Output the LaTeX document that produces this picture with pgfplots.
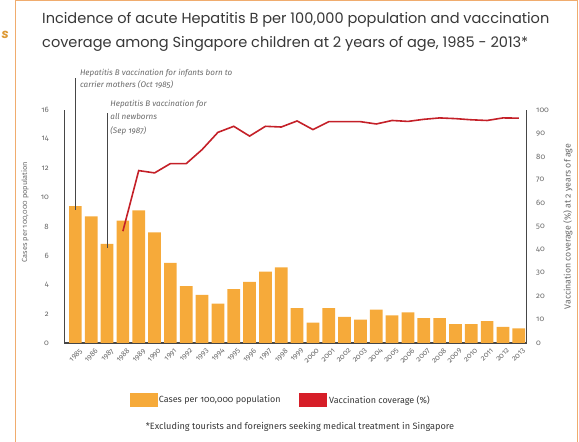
\documentclass[border=0pt]{standalone}
\usepackage{pgfplots}
\pgfplotsset{compat=1.18}
\usepackage{fontspec}
\setmainfont{Fira Sans}[Numbers=OldStyle]
\newfontfamily\titlefont{Poppins}
\definecolor{barorange}{RGB}{246,170,58}
\definecolor{vacred}{RGB}{196,32,40}
\definecolor{legred}{RGB}{214,30,40}
\definecolor{axisgray}{RGB}{70,70,70}
\definecolor{labgray}{RGB}{105,105,105}
\definecolor{titlegray}{RGB}{55,55,55}
\definecolor{frameorange}{RGB}{240,172,110}
\begin{document}
\begin{tikzpicture}
\useasboundingbox (0bp,0bp) rectangle (579bp,442bp);
% frame
\draw[frameorange, line width=1bp] (15bp,0bp) -- (15bp,441.5bp) -- (577bp,441.5bp) -- (577bp,0bp);
\node[anchor=east, text=barorange!90!black, font=\titlefont\bfseries\itshape\fontsize{13}{15}\selectfont, inner sep=0pt] at (9bp,407bp) {s};
% title
\node[anchor=north west, align=left, text=titlegray, inner sep=0pt,
      font=\titlefont\fontsize{14.6}{24}\selectfont] at (42bp,430bp)
  {Incidence of acute Hepatitis B per 100,000 population and vaccination\\
   coverage among Singapore children at 2 years of age, 1985 - 2013*};
\begin{axis}[
  scale only axis, width=462.4bp, height=233bp,
  at={(64.3bp,99bp)}, anchor=south west,
  xmin=-0.7, xmax=28.5, ymin=0, ymax=16,
  axis x line*=bottom, axis y line*=left,
  axis line style={-, draw=axisgray, line width=1.4bp},
  major tick length=0pt,
  ytick={0,2,...,16},
  xtick={0,...,28},
  xticklabels={1985,1986,1987,1988,1989,1990,1991,1992,1993,1994,1995,1996,1997,1998,1999,2000,2001,2002,2003,2004,2005,2006,2007,2008,2009,2010,2011,2012,2013},
  /pgf/number format/assume math mode=true,
  yticklabel style={font=\fontsize{7.8}{9}\selectfont, text=labgray, xshift=-12bp},
  xticklabel style={font=\fontsize{7.6}{9}\selectfont, text=labgray, shift={(3.5bp,-4bp)}, rotate=45, anchor=north east, inner sep=0.5bp},
  ylabel={Cases per 100,000 population},
  ylabel style={at={(axis description cs:-0.085,0.562)}, anchor=center, font=\fontsize{7.4}{9}\selectfont, text=labgray},
  clip=false,
]
\addplot[ybar, bar width=12.7bp, bar shift=0pt, fill=barorange, draw=none] coordinates {
 (0,9.4) (1,8.7) (2,6.8) (3,8.4) (4,9.1) (5,7.6) (6,5.5) (7,3.9) (8,3.3) (9,2.7)
 (10,3.7) (11,4.2) (12,4.9) (13,5.2) (14,2.4) (15,1.4) (16,2.4) (17,1.8) (18,1.6) (19,2.3)
 (20,1.9) (21,2.1) (22,1.7) (23,1.7) (24,1.3) (25,1.3) (26,1.5) (27,1.1) (28,1.0)};
\draw[axisgray, line width=0.8bp] (axis cs:0,9.15) -- (axis cs:0,18.2);
\draw[axisgray, line width=0.8bp] (axis cs:2,6.55) -- (axis cs:2,15.8);
\node[anchor=north west, align=left, inner sep=0pt, text=labgray,
      font=\itshape\fontsize{8.1}{12.3}\selectfont] at (axis cs:0.28,18.8)
  {Hepatitis B vaccination for infants born to\\carrier mothers (Oct 1985)};
\node[anchor=north west, align=left, inner sep=0pt, text=labgray,
      font=\itshape\fontsize{8.1}{13.5}\selectfont] at (axis cs:2.2,16.7)
  {Hepatitis B vaccination for\\all newborns\\(Sep 1987)};
\end{axis}
\begin{axis}[
  scale only axis, width=462.4bp, height=233bp,
  at={(64.3bp,99bp)}, anchor=south west,
  xmin=-0.7, xmax=28.5, ymin=0, ymax=100,
  hide x axis, axis y line*=right,
  axis line style={-, draw=axisgray, line width=1.4bp},
  major tick length=0pt,
  ytick={0,10,...,100},
  /pgf/number format/assume math mode=true,
  yticklabel style={font=\fontsize{7.8}{9}\selectfont, text=labgray, xshift=6bp},
  ylabel={Vaccination coverage (\%) at 2 years of age},
  ylabel style={at={(axis description cs:1.089,0.5)}, anchor=center, font=\fontsize{8.8}{10}\selectfont, text=labgray},
  legend style={at={(0.468,-0.245)}, anchor=center, draw=none, fill=none,
     legend columns=2, font=\fontsize{9}{11}\selectfont, text=titlegray,
     /tikz/every even column/.append style={column sep=16bp}},
  clip=false,
]
\addlegendimage{legend image code/.code={\fill[barorange] (0bp,-6.5bp) rectangle (27bp,6.5bp);}}
\addlegendentry{Cases per 100,000 population}
\addplot[vacred, line width=1.6bp, mark=none,
  legend image code/.code={\fill[legred] (0bp,-6.5bp) rectangle (27bp,6.5bp);}] coordinates {
 (3,48) (4,74) (5,73) (6,77) (7,77) (8,83) (9,90.4) (10,93) (11,88.8) (12,93) (13,92.7)
 (14,95.3) (15,91.6) (16,95) (17,95) (18,95) (19,94) (20,95.5) (21,95.1) (22,96) (23,96.6)
 (24,96.3) (25,95.8) (26,95.5) (27,96.6) (28,96.5)};
\addlegendentry{Vaccination coverage (\%)}
\end{axis}
\node[text=titlegray, font=\fontsize{9.2}{11}\selectfont, inner sep=0pt] at (300bp,15bp)
  {*Excluding tourists and foreigners seeking medical treatment in Singapore};
\end{tikzpicture}
\end{document}
